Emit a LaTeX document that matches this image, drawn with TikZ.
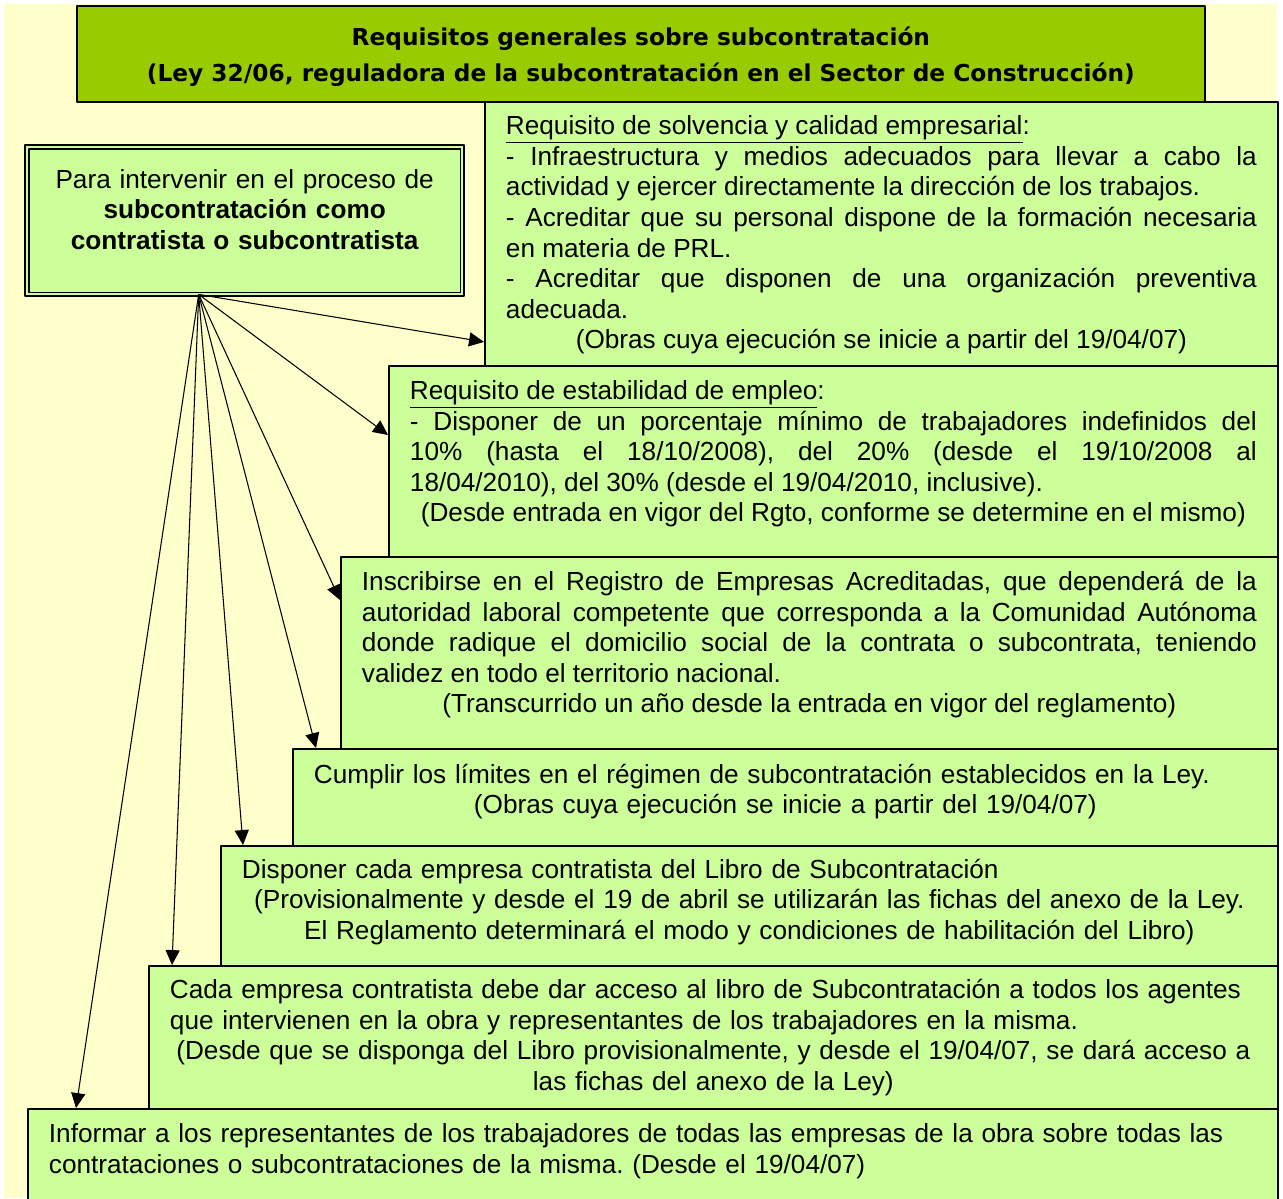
\documentclass[tikz,border=0pt]{standalone}
\usepackage{fontspec}
\setmainfont{Liberation Sans}
\newfontfamily\headfont{DejaVu Sans}
\usetikzlibrary{arrows.meta}
\usetikzlibrary{positioning}
\usetikzlibrary{calc}
\definecolor{crema}{HTML}{FFFFCC}
\definecolor{verdeclaro}{HTML}{CCFF99}
\definecolor{verdetitulo}{HTML}{99CC00}
\newcommand{\colatexto}[1]{\rule[-#1]{0pt}{#1}}
\frenchspacing

\begin{document}
\begin{tikzpicture}[x=0.02cm,y=-0.02cm,line join=round,>={Triangle[length=8.5pt,width=8pt]},
  titulo/.style={draw=black,line width=1.1pt,fill=verdetitulo,anchor=north west,
    minimum width=22.56cm,minimum height=1.92cm,align=center,
    font=\headfont\bfseries\fontsize{13.25pt}{20.5pt}\selectfont},
  req/.style={draw=black,line width=1.1pt,fill=verdeclaro,anchor=north west,
    inner xsep=0.42cm,inner ysep=0pt,font=\fontsize{14.9pt}{17.4pt}\selectfont},
  flecha/.style={->,line width=0.6pt}]
\useasboundingbox (0,0) rectangle (1283,1198);
\clip (0,0) rectangle (1283,1198);
\fill[crema] (4,4) rectangle (1277,1198);

% cajas de requisitos
\node[req,text width=15.02cm,minimum height=5.32cm,align=justify] (b1) at (484,101)
  {\underline{Requisito de solvencia y calidad empresarial}:\\
   - Infraestructura y medios adecuados para llevar a cabo la\linebreak
   actividad y ejercer directamente la dirección de los trabajos.\\
   - Acreditar que su personal dispone de la formación necesaria\linebreak
   en materia de PRL.\\
   - Acreditar que disponen de una organización preventiva\linebreak
   adecuada.\\
   \makebox[\linewidth]{(Obras cuya ejecución se inicie a partir del 19/04/07)}};
\node[req,text width=16.94cm,minimum height=3.84cm,align=justify] (b2) at (388,365)
  {\underline{Requisito de estabilidad de empleo}:\\
   - Disponer de un porcentaje mínimo de trabajadores indefinidos del\linebreak
   10\% (hasta el 18/10/2008), del 20\% (desde el 19/10/2008 al\linebreak
   18/04/2010), del 30\% (desde el 19/04/2010, inclusive).\\
   \makebox[\linewidth]{(Desde entrada en vigor del Rgto, conforme se determine en el mismo)}\colatexto{0.43cm}};
\node[req,text width=17.90cm,minimum height=3.84cm,align=justify] (b3) at (340,556)
  {Inscribirse en el Registro de Empresas Acreditadas, que dependerá de la\linebreak
   autoridad laboral competente que corresponda a la Comunidad Autónoma\linebreak
   donde radique el domicilio social de la contrata o subcontrata, teniendo\linebreak
   validez en todo el territorio nacional.\\
   \makebox[\linewidth]{(Transcurrido un año desde la entrada en vigor del reglamento)}\colatexto{0.43cm}};
\node[req,text width=18.86cm,minimum height=1.94cm,align=left] (b4) at (292,748)
  {Cumplir los límites en el régimen de subcontratación establecidos en la Ley.\\
   \makebox[\linewidth]{(Obras cuya ejecución se inicie a partir del 19/04/07)}\colatexto{0.35cm}};
\node[req,text width=20.30cm,minimum height=2.40cm,align=left] (b5) at (220,845)
  {Disponer cada empresa contratista del Libro de Subcontratación\\
   \makebox[\linewidth]{(Provisionalmente y desde el 19 de abril se utilizarán las fichas del anexo de la Ley.}\\
   \makebox[\linewidth]{El Reglamento determinará el modo y condiciones de habilitación del Libro)}\colatexto{0.27cm}};
\node[req,text width=21.74cm,minimum height=2.86cm,align=left] (b6) at (148,965)
  {Cada empresa contratista debe dar acceso al libro de Subcontratación a todos los agentes\\
   que intervienen en la obra y representantes de los trabajadores en la misma.\\
   \makebox[\linewidth]{(Desde que se disponga del Libro provisionalmente, y desde el 19/04/07, se dará acceso a}\\
   \makebox[\linewidth]{las fichas del anexo de la Ley)}};
\node[req,text width=24.16cm,minimum height=2.20cm,align=left] (b7) at (27,1108)
  {Informar a los representantes de los trabajadores de todas las empresas de la obra sobre todas las\\
   contrataciones o subcontrataciones de la misma. (Desde el 19/04/07)\colatexto{0.63cm}};

% titulo
\node[titulo] (title) at (76,5)
  {\rule{0pt}{0.48cm}Requisitos generales sobre subcontratación\\
   (Ley 32/06, reguladora de la subcontratación en el Sector de Construcción)};

% caja de la izquierda
\node[req,line width=1.4pt,anchor=north west,text width=7.94cm,minimum height=3.02cm,align=center] (lb) at (24,144)
  {Para intervenir en el proceso de\\
   \textbf{subcontratación como}\\
   \textbf{contratista o subcontratista}\colatexto{0.46cm}};
\draw[line width=0.8pt] ($(lb.north west)+(5,5)$) rectangle ($(lb.south east)+(-5,-5)$);

% flechas
\coordinate (fan) at ($(lb.south)+(-46,-3)$);
\draw[flecha] (fan) -- ($(b1.south west)+(0,-27)$);
\draw[flecha] (fan) -- ($(b2.north west)+(0,70)$);
\draw[flecha] (fan) -- ($(b3.north west)+(0,44)$);
\draw[flecha] (fan) -- ($(b4.north west)+(24,0)$);
\draw[flecha] (fan) -- ($(b5.north west)+(23,0)$);
\draw[flecha] (fan) -- ($(b6.north west)+(24,0)$);
\draw[flecha] (fan) -- ($(b7.north west)+(49,0)$);
\end{tikzpicture}
\end{document}
